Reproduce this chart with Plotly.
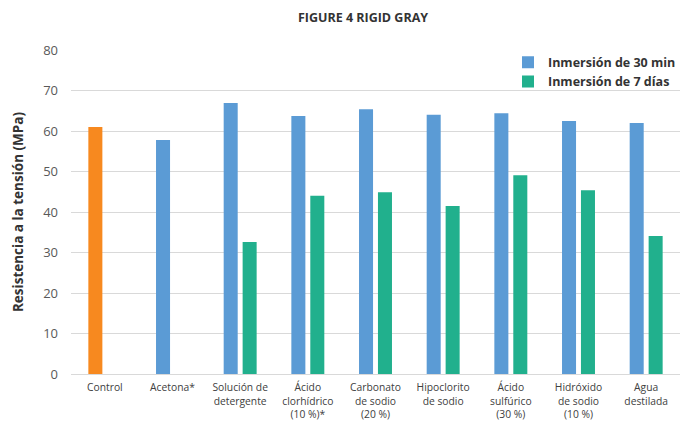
import plotly.graph_objects as go

# Tensile strength (MPa) after immersion in each chemical agent
categories = [
    "Control",
    "Acetona*",
    "Solución de<br>detergente",
    "Ácido<br>clorhídrico<br>(10 %)*",
    "Carbonato<br>de sodio<br>(20 %)",
    "Hipoclorito<br>de sodio",
    "Ácido<br>sulfúrico<br>(30 %)",
    "Hidróxido<br>de sodio<br>(10 %)",
    "Agua<br>destilada",
]
control = [61.0, None, None, None, None, None, None, None, None]
inmersion_30min = [None, 57.8, 66.9, 63.7, 65.4, 64.0, 64.4, 62.5, 62.0]
inmersion_7dias = [None, None, 32.6, 44.0, 44.9, 41.5, 49.1, 45.4, 34.1]
y_ticks = [0, 10, 20, 30, 40, 50, 60, 70, 80]

BLUE = "#5B9BD5"
GREEN = "#21B08D"
ORANGE = "#F7891F"
FONT = "Open Sans"

fig = go.Figure()
# control sample shares the 30-min slot but is drawn in orange
fig.add_trace(go.Bar(
    x=categories, y=control, name="Control", showlegend=False,
    offsetgroup="30min", marker=dict(color=ORANGE, line=dict(width=0)),
))
fig.add_trace(go.Bar(
    x=categories, y=inmersion_30min, name="Inmersión de 30 min",
    offsetgroup="30min", marker=dict(color=BLUE, line=dict(width=0)),
))
fig.add_trace(go.Bar(
    x=categories, y=inmersion_7dias, name="Inmersión de 7 días",
    offsetgroup="7dias", marker=dict(color=GREEN, line=dict(width=0)),
))

fig.update_layout(
    width=681, height=421,
    margin=dict(l=71, r=0, t=50, b=47),
    paper_bgcolor="white", plot_bgcolor="white",
    barmode="group", bargap=0.44, bargroupgap=0.26,
    font=dict(family=FONT, color="#404040"),
    title=dict(
        text="<b>FIGURE 4 RIGID GRAY</b>",
        x=363 / 681, xanchor="center", y=1 - 18 / 421, yanchor="middle",
        font=dict(family=FONT, size=12.5, color="#333333"),
    ),
    legend=dict(
        x=0.718, xanchor="left", y=1.007, yanchor="top",
        bgcolor="rgba(255,255,255,0)",
        font=dict(family=FONT, size=12.5, color="#333333", weight="bold"),
        itemwidth=30, tracegroupgap=0,
    ),
    showlegend=True,
)
fig.update_xaxes(
    type="category", range=[-0.5, len(categories) - 0.5],
    showgrid=False, showline=True, linecolor="#D9D9D9", linewidth=1,
    ticks="", ticklabelstandoff=4, automargin=False,
    tickfont=dict(family=FONT, size=10.3, color="#404040"),
)
fig.update_yaxes(
    range=[0, 80], tickvals=y_ticks, automargin=False,
    showgrid=True, gridcolor="#D9D9D9", gridwidth=1,
    zeroline=False, showline=False, ticks="",
    ticklabelstandoff=12,
    tickfont=dict(family=FONT, size=13, color="#595959"),
    title=dict(
        text="<b>Resistencia a la tensión (MPa)</b>",
        font=dict(family=FONT, size=13.5, color="#333333"),
        standoff=16,
    ),
)

fig.write_html("out.html")
